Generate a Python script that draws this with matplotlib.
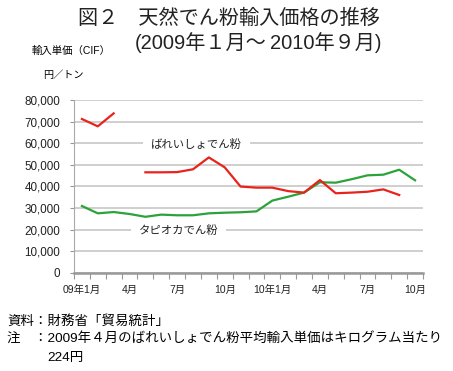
import numpy as np
import matplotlib
matplotlib.use('Agg')
import matplotlib.pyplot as plt
from matplotlib.ticker import FuncFormatter

# フォント設定（欧文は Liberation Sans、和文は Noto Sans CJK JP）
plt.rcParams['font.family'] = ['Liberation Sans', 'Noto Sans CJK JP', 'DejaVu Sans']
plt.rcParams['axes.unicode_minus'] = False

# データ（2009年1月～2010年10月, 円/トン）
months = ['09年1月', '2月', '3月', '4月', '5月', '6月', '7月', '8月', '9月', '10月',
          '11月', '12月', '10年1月', '2月', '3月', '4月', '5月', '6月', '7月', '8月',
          '9月', '10月']
potato = [71200, 67800, 73800, np.nan, 46500, 46500, 46600, 47900, 53400, 48800,
          39900, 39400, 39400, 37800, 37100, 42900, 36800, 37100, 37500, 38600,
          36000, np.nan]
tapioca = [30900, 27500, 28100, 27200, 25900, 26900, 26600, 26600, 27500, 27800,
           28000, 28400, 33400, 35200, 37100, 41900, 41700, 43300, 45100, 45400,
           47700, 42800]
label_idx = [0, 3, 6, 9, 12, 15, 18, 21]
yticks = [0, 10000, 20000, 30000, 40000, 50000, 60000, 70000, 80000]

fig = plt.figure(figsize=(4.53, 3.71), dpi=100)
ax = fig.add_axes([74 / 453, 1 - 272.7 / 371, 349 / 453, 172.7 / 371])

x = np.arange(len(months))
ax.plot(x, tapioca, color='#2ca33a', linewidth=1.6, zorder=3)
ax.plot(x, potato, color='#e8231c', linewidth=1.6, zorder=4)

# 軸の設定
ax.set_xlim(-0.5, len(months) - 0.5)
ax.set_ylim(0, 80000)
ax.set_yticks(yticks)
ax.yaxis.set_major_formatter(FuncFormatter(lambda v, p: f'{int(v):,}'))
ax.grid(axis='y', color='#cccccc', linewidth=1.3, zorder=0)
ax.set_axisbelow(True)

ax.set_xticks(label_idx)
ax.set_xticklabels([months[i] for i in label_idx])
ax.set_xticks(np.arange(-0.5, len(months)), minor=True)
ax.tick_params(axis='x', which='major', length=0, pad=9, labelsize=7.5, colors='#222222')
ax.tick_params(axis='x', which='minor', length=4, width=0.8, color='#999999')
ax.tick_params(axis='y', length=3, width=0.8, color='#999999', labelsize=8.4,
               labelcolor='#222222', pad=7)

for s in ['top', 'right']:
    ax.spines[s].set_visible(False)
ax.spines['left'].set_color('#aaaaaa')
ax.spines['left'].set_linewidth(0.8)
ax.spines['bottom'].set_color('#999999')
ax.spines['bottom'].set_linewidth(1.8)

# 系列ラベル
ax.text(7.2, 59200, 'ばれいしょでん粉', fontsize=8.2, ha='center', va='center', color='#222222',
        bbox=dict(boxstyle='square,pad=0.7', facecolor='white', edgecolor='none'), zorder=2)
ax.text(6.1, 19500, 'タピオカでん粉', fontsize=8.2, ha='center', va='center', color='#222222',
        bbox=dict(boxstyle='square,pad=0.7', facecolor='white', edgecolor='none'), zorder=2)

# タイトル
fig.text(78 / 453, 1 - 18 / 371, '図２　天然でん粉輸入価格の推移', fontsize=14.5,
         ha='left', va='center', color='#222222')
fig.text(135 / 453, 1 - 43 / 371, '(2009年１月～', fontsize=14.5,
         ha='left', va='center', color='#222222')
fig.text(270 / 453, 1 - 43 / 371, '2010年９月)', fontsize=14.5,
         ha='left', va='center', color='#222222')

# 縦軸の単位
fig.text(71 / 453, 1 - 51 / 371, '輸入単価（CIF）', fontsize=7.5, ha='center', va='center')
fig.text(63 / 453, 1 - 75 / 371, '円／トン', fontsize=7.3, ha='center', va='center')

# 注記
fig.text(7 / 453, 1 - 321 / 371, '資料：財務省「貿易統計」', fontsize=9.7, ha='left', va='center')
fig.text(7 / 453, 1 - 339 / 371, '注　：2009年４月のばれいしょでん粉平均輸入単価はキログラム当たり',
         fontsize=9.7, ha='left', va='center')
fig.text(47 / 453, 1 - 358 / 371, '224円', fontsize=9.7, ha='left', va='center')

fig.savefig('out.png', dpi=100)
